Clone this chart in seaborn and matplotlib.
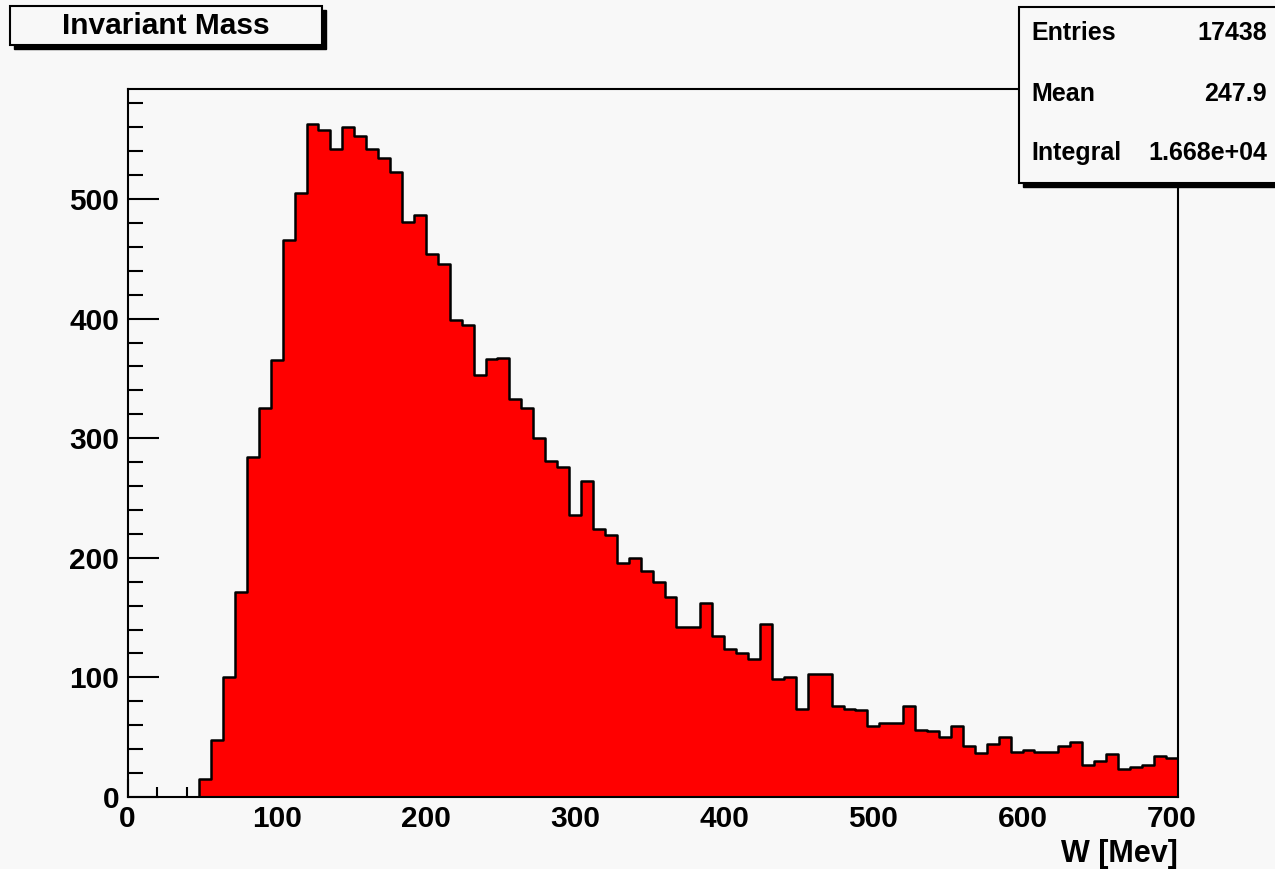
import numpy as np
import pandas as pd
import matplotlib
matplotlib.use("Agg")
import matplotlib.pyplot as plt
from matplotlib.patches import Rectangle
from matplotlib.ticker import MultipleLocator
import seaborn as sns

# ---- data (bin width 8 MeV, 0..704) ----
bin_width = 8
n_bins = 88
counts = [0, 0, 0, 0, 0, 0,
          15, 48, 100, 171, 284, 325, 365, 466, 505, 563,
          558, 542, 560, 553, 542, 534, 523, 481, 487, 454,
          446, 399, 395, 353, 366, 367, 333, 325, 300, 281,
          276, 236, 264, 224, 219, 196, 200, 189, 180, 167,
          142, 142, 162, 135, 124, 120, 115, 145, 99, 100,
          74, 103, 103, 76, 74, 73, 59, 62, 62, 76,
          56, 55, 50, 59, 43, 37, 44, 50, 38, 39,
          38, 38, 43, 46, 27, 30, 36, 23, 25, 27,
          34, 33]
assert len(counts) == n_bins
x_ticks = [0, 100, 200, 300, 400, 500, 600, 700]
y_ticks = [0, 100, 200, 300, 400, 500]
title_text = "Invariant Mass"
x_label = "W [Mev]"
stats_names = ["Entries", "Mean", "Integral"]
stats_values = ["17438", "247.9", "1.668e+04"]

edges = np.arange(n_bins + 1) * bin_width
centers = edges[:-1] + bin_width / 2
df = pd.DataFrame({"W": centers, "count": np.array(counts, dtype=float)})

sns.set_theme(style="ticks")
plt.rcParams["font.family"] = ["Liberation Sans", "DejaVu Sans"]
plt.rcParams["font.weight"] = "bold"

W, H = 1275, 869
BG = "#f8f8f8"
fig = plt.figure(figsize=(W / 100, H / 100), dpi=100, facecolor=BG)


def fx(px):
    return px / W


def fy(py):
    return 1 - py / H


ax_left, ax_right, ax_top, ax_bot = 127.5, 1177.7, 89, 797
ax = fig.add_axes([fx(ax_left), fy(ax_bot), fx(ax_right - ax_left), (ax_bot - ax_top) / H])
ax.set_facecolor(BG)

sns.histplot(data=df, x="W", weights="count", binwidth=bin_width,
             binrange=(0, n_bins * bin_width), element="step",
             fill=True, color="#ff0000", alpha=1, edgecolor="black",
             linewidth=1.8, ax=ax)

ax.set_xlim(0, n_bins * bin_width)
ax.set_ylim(0, 592)
ax.set_xticks(x_ticks)
ax.set_yticks(y_ticks)
ax.set_xticklabels([str(v) for v in x_ticks])
ax.set_yticklabels([str(v) for v in y_ticks])
ax.xaxis.set_minor_locator(MultipleLocator(20))
ax.yaxis.set_minor_locator(MultipleLocator(20))
ax.tick_params(axis="y", which="major", direction="in", length=22, width=1.5,
               labelsize=21.5, pad=6, color="black", labelcolor="black")
ax.tick_params(axis="y", which="minor", direction="in", length=11, width=1.5, color="black")
ax.tick_params(axis="x", which="major", direction="in", length=13, width=1.5,
               labelsize=21.5, pad=6, color="black", labelcolor="black")
ax.tick_params(axis="x", which="minor", direction="in", length=7, width=1.5, color="black")
for lab in ax.get_xticklabels() + ax.get_yticklabels():
    lab.set_fontweight("bold")
for s in ax.spines.values():
    s.set_visible(True)
    s.set_linewidth(1.5)
    s.set_color("black")
ax.set_ylabel("")
ax.set_xlabel(x_label, loc="right", fontsize=22, fontweight="bold", labelpad=4, color="black")


def box(x0, y0, x1, y1, shadow=4):
    fig.patches.append(Rectangle((fx(x0 + shadow), fy(y1 + shadow)), fx(x1 - x0), (y1 - y0) / H,
                                 transform=fig.transFigure, facecolor="black",
                                 edgecolor="black", zorder=10))
    fig.patches.append(Rectangle((fx(x0), fy(y1)), fx(x1 - x0), (y1 - y0) / H,
                                 transform=fig.transFigure, facecolor=BG,
                                 edgecolor="black", linewidth=1.5, zorder=11))


# title box
box(9.5, 6.5, 321.5, 45)
fig.text(fx(165.5), fy(26), title_text, ha="center", va="center", fontsize=21.5,
         fontweight="bold", color="black", zorder=12)

# stats box
box(1018.5, 6.5, 1290, 182.5)
rows_y = [33, 94, 153]
for name, val, yy in zip(stats_names, stats_values, rows_y):
    fig.text(fx(1031), fy(yy), name, ha="left", va="center", fontsize=18,
             fontweight="bold", color="black", zorder=12)
    fig.text(fx(1267), fy(yy), val, ha="right", va="center", fontsize=18,
             fontweight="bold", color="black", zorder=12)

fig.savefig("out.png", dpi=100, facecolor=BG)
